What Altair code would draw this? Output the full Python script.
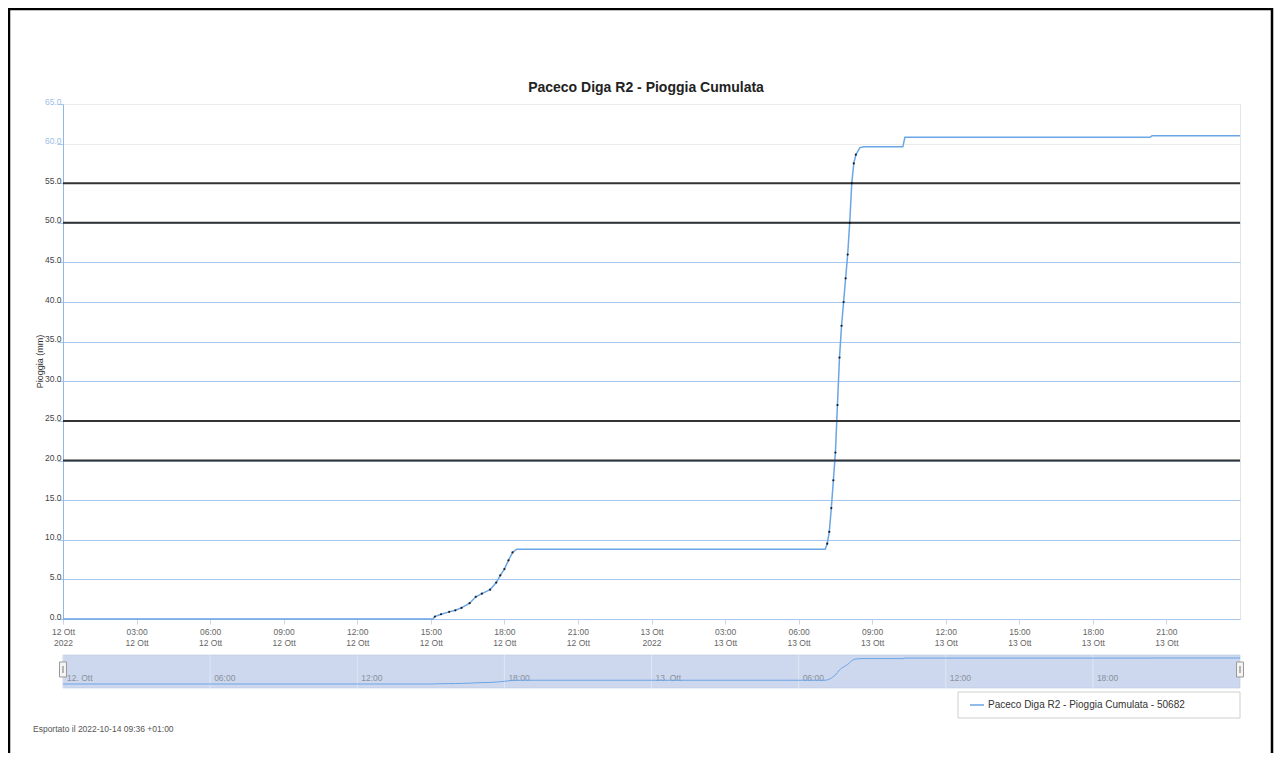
import altair as alt
import pandas as pd

# ---------------- data ----------------
series_time = [
    "2022-10-12T00:00", "2022-10-12T15:05", "2022-10-12T15:10", "2022-10-12T15:25",
    "2022-10-12T15:45", "2022-10-12T16:00", "2022-10-12T16:15", "2022-10-12T16:35",
    "2022-10-12T16:50", "2022-10-12T17:05", "2022-10-12T17:25", "2022-10-12T17:40",
    "2022-10-12T17:50", "2022-10-12T18:00", "2022-10-12T18:10", "2022-10-12T18:20",
    "2022-10-12T18:30",
    "2022-10-13T07:05", "2022-10-13T07:10", "2022-10-13T07:15", "2022-10-13T07:20",
    "2022-10-13T07:25", "2022-10-13T07:30", "2022-10-13T07:35", "2022-10-13T07:40",
    "2022-10-13T07:45", "2022-10-13T07:50", "2022-10-13T07:55", "2022-10-13T08:00",
    "2022-10-13T08:05", "2022-10-13T08:10", "2022-10-13T08:15", "2022-10-13T08:20",
    "2022-10-13T08:30", "2022-10-13T08:40",
    "2022-10-13T10:15", "2022-10-13T10:20", "2022-10-13T20:20", "2022-10-13T20:25",
    "2022-10-14T00:00",
]
series_value = [
    0.0, 0.0, 0.3, 0.6,
    0.9, 1.1, 1.4, 2.0,
    2.8, 3.2, 3.7, 4.6,
    5.5, 6.3, 7.4, 8.4,
    8.8,
    8.8, 9.5, 11.0, 14.0,
    17.5, 21.0, 27.0, 33.0,
    37.0, 40.0, 43.0, 46.0,
    50.0, 55.0, 57.5, 58.6,
    59.5, 59.6,
    59.6, 60.8, 60.8, 61.0,
    61.0,
]
threshold_values = [20, 25, 50, 55]
y_ticks = [0, 5, 10, 15, 20, 25, 30, 35, 40, 45, 50, 55, 60, 65]
x_tick_days = [12] * 8 + [13] * 8
x_tick_hours = [0, 3, 6, 9, 12, 15, 18, 21] * 2
nav_label_time = ["2022-10-12T00:00", "2022-10-12T06:00", "2022-10-12T12:00", "2022-10-12T18:00",
                  "2022-10-13T00:00", "2022-10-13T06:00", "2022-10-13T12:00", "2022-10-13T18:00"]
nav_label_text = ["12. Ott", "06:00", "12:00", "18:00", "13. Ott", "06:00", "12:00", "18:00"]

title_text = "Paceco Diga R2 - Pioggia Cumulata"
legend_text = "Paceco Diga R2 - Pioggia Cumulata - 50682"
footer_text = "Esportato il 2022-10-14 09:36 +01:00"
y_title = "Pioggia (mm)"

# ---------------- tables ----------------
df = pd.DataFrame({"t": pd.to_datetime(series_time), "v": series_value})
thr_df = pd.DataFrame({"y": threshold_values})
nav_df = pd.DataFrame({"t": pd.to_datetime(nav_label_time), "label": nav_label_text})
one = pd.DataFrame({"a": [0]})

W, H = 1177, 515
LINE_COLOR = "#6aa5e6"
FONT = "Liberation Sans"

x_domain = [alt.DateTime(year=2022, month=10, date=12, hours=0),
            alt.DateTime(year=2022, month=10, date=14, hours=0)]
xscale = alt.Scale(domain=x_domain)
yscale = alt.Scale(domain=[0, 65], nice=False)

x_values = [alt.DateTime(year=2022, month=10, date=d, hours=h) for d, h in zip(x_tick_days, x_tick_hours)]

x_axis = alt.Axis(
    values=x_values,
    labelExpr=("hours(datum.value) == 0 ? [timeFormat(datum.value, '%d') + ' Ott', timeFormat(datum.value, '%Y')]"
               " : [timeFormat(datum.value, '%H:%M'), timeFormat(datum.value, '%d') + ' Ott']"),
    labelFontSize=8.5, labelColor="#666", labelLineHeight=11, labelPadding=3,
    labelAngle=0, labelAlign="center", labelFlush=False, labelOverlap=False,
    tickSize=5, tickColor="#c8d4e4", domain=False, grid=False, title=None,
)
y_axis = alt.Axis(
    values=y_ticks, format=".1f",
    title=y_title, titleX=-24, titleY=257, titleAngle=-90, titleAlign="center",
    titleBaseline="middle", titleFontSize=9, titleFontWeight="normal", titleColor="#333",
    labelFontSize=8.5,
    labelColor={"condition": {"test": "datum.value >= 60", "value": "#9dbde6"}, "value": "#444"},
    labelPadding=-4, labelOffset=-3,
    tickSize=6, tickColor="#a8c8f0", domainColor="#8fb8ea",
    grid=True,
    gridColor={"condition": {"test": "datum.value >= 60", "value": "#ececec"}, "value": "#a8c8f0"},
)

# ---------------- layers ----------------
border = alt.Chart(one).mark_rect(filled=False, stroke="black", strokeWidth=2.5).encode(
    x=alt.value(-54), x2=alt.value(1209), y=alt.value(-95), y2=alt.value(760))

thresholds = alt.Chart(thr_df).mark_rule(color="#333", strokeWidth=2).encode(
    y=alt.Y("y:Q", scale=yscale, axis=None))

main_line = alt.Chart(df).mark_line(color=LINE_COLOR, strokeWidth=1.5).encode(
    x=alt.X("t:T", scale=xscale, axis=x_axis),
    y=alt.Y("v:Q", scale=yscale, axis=y_axis))

markers = alt.Chart(df).transform_filter(
    "datum.v > 0.2 && datum.v < 59.5 && datum.v != 8.8"
).mark_point(filled=True, color="#111", size=5, opacity=0.9).encode(
    x=alt.X("t:T", scale=xscale),
    y=alt.Y("v:Q", scale=yscale, axis=None))

title = alt.Chart(one).mark_text(fontSize=14, fontWeight="bold", color="#222", font=FONT,
                                 align="center", baseline="middle").encode(
    x=alt.value(583), y=alt.value(-16), text=alt.value(title_text))

# navigator
nav_band = alt.Chart(one).mark_rect(color="#cdd8ee", stroke="#b9c9e3", strokeWidth=0.6).encode(
    x=alt.value(0), x2=alt.value(W), y=alt.value(551), y2=alt.value(584))
nav_grid = alt.Chart(nav_df).mark_rule(color="#dfe6f3", strokeWidth=1).encode(
    x=alt.X("t:T", scale=xscale), y=alt.value(551), y2=alt.value(584))
nav_labels = alt.Chart(nav_df).mark_text(align="left", baseline="middle", dx=4, fontSize=8.5,
                                         color="#8a909c", font=FONT).encode(
    x=alt.X("t:T", scale=xscale), y=alt.value(574), text="label:N")
nav_line = alt.Chart(df).mark_line(color=LINE_COLOR, strokeWidth=1).encode(
    x=alt.X("t:T", scale=xscale),
    y=alt.Y("v:Q", scale=alt.Scale(domain=[0, 61], range=[580, 554], nice=False, zero=False), axis=None))
handle_l = alt.Chart(one).mark_rect(fill="#f4f4f4", stroke="#999", strokeWidth=1).encode(
    x=alt.value(-3.5), x2=alt.value(3.5), y=alt.value(558), y2=alt.value(573))
handle_r = alt.Chart(one).mark_rect(fill="#f4f4f4", stroke="#999", strokeWidth=1).encode(
    x=alt.value(W - 3.5), x2=alt.value(W + 3.5), y=alt.value(558), y2=alt.value(573))
handle_l_mark = alt.Chart(one).mark_rule(color="#777", strokeWidth=1).encode(
    x=alt.value(0), y=alt.value(562), y2=alt.value(569))
handle_r_mark = alt.Chart(one).mark_rule(color="#777", strokeWidth=1).encode(
    x=alt.value(W), y=alt.value(562), y2=alt.value(569))

# legend
legend_box = alt.Chart(one).mark_rect(fill="white", stroke="#cfcfcf", strokeWidth=1).encode(
    x=alt.value(895), x2=alt.value(W), y=alt.value(588), y2=alt.value(614))
legend_sym = alt.Chart(one).mark_rule(color=LINE_COLOR, strokeWidth=1.5).encode(
    x=alt.value(907), x2=alt.value(921), y=alt.value(601))
legend_lbl = alt.Chart(one).mark_text(align="left", baseline="middle", fontSize=10, color="#333",
                                      font=FONT).encode(
    x=alt.value(925), y=alt.value(601), text=alt.value(legend_text))

footer = alt.Chart(one).mark_text(align="left", baseline="middle", fontSize=8.5, color="#555",
                                  font=FONT).encode(
    x=alt.value(-30), y=alt.value(625), text=alt.value(footer_text))

chart = alt.layer(
    border, main_line, thresholds, markers, title,
    nav_band, nav_grid, nav_labels, nav_line,
    handle_l, handle_r, handle_l_mark, handle_r_mark,
    legend_box, legend_sym, legend_lbl, footer,
).resolve_scale(y="independent").properties(
    width=W, height=H,
    autosize=alt.AutoSizeParams(type="none"),
    padding={"left": 55, "top": 96, "right": 34, "bottom": 134},
).configure(font=FONT).configure_view(stroke="#e4e4e4")

chart.save("out.html", embed_options={"renderer": "svg", "actions": False})
